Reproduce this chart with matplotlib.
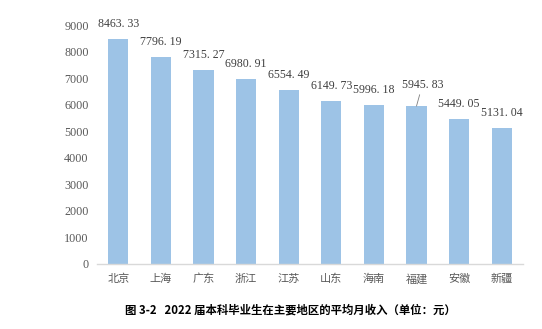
import matplotlib.pyplot as plt

plt.rcParams['font.family'] = ['Noto Sans CJK SC', 'DejaVu Sans']

regions = ['北京', '上海', '广东', '浙江', '江苏', '山东', '海南', '福建', '安徽', '新疆']
income = [8463.33, 7796.19, 7315.27, 6980.91, 6554.49, 6149.73, 5996.18, 5945.83, 5449.05, 5131.04]
yticks = [0, 1000, 2000, 3000, 4000, 5000, 6000, 7000, 8000, 9000]

fig = plt.figure(figsize=(5.42, 3.29), dpi=100)
ax = fig.add_axes([97 / 542, 1 - 264 / 329, 426 / 542, 239 / 329])

x = list(range(len(regions)))
ax.bar(x, income, width=0.47, color='#9dc3e6')

# value labels, 福建 one is pushed aside with a leader line
for i, v in enumerate(income):
    txt = ('%.2f' % v).replace('.', '. ')
    if regions[i] == '福建':
        ax.annotate(txt, xy=(i, v), xytext=(4.3, 15.5), textcoords='offset points',
                    ha='center', va='center', fontsize=8.6, color='#404040',
                    family='Liberation Serif',
                    arrowprops=dict(arrowstyle='-', color='#7f7f7f', lw=0.6,
                                    shrinkA=1, shrinkB=0))
    else:
        ax.annotate(txt, xy=(i, v), xytext=(0, 10.8), textcoords='offset points',
                    ha='center', va='center', fontsize=8.6, color='#404040',
                    family='Liberation Serif')

ax.set_xlim(-0.5, 9.5)
ax.set_ylim(0, 9000)
ax.set_yticks(yticks)
ax.set_yticklabels([str(t) for t in yticks], family='Liberation Serif', fontsize=8.7, color='#595959')
ax.set_xticks(x)
ax.set_xticklabels(regions, fontsize=8, color='#595959')
ax.tick_params(axis='y', length=0, pad=6)
ax.tick_params(axis='x', length=0, pad=7)

for s in ['top', 'right', 'left']:
    ax.spines[s].set_visible(False)
ax.spines['bottom'].set_color('#d9d9d9')
ax.spines['bottom'].set_linewidth(1)

fig.text(290 / 542, 1 - 310 / 329, '图 3-2   2022 届本科毕业生在主要地区的平均月收入（单位：元）',
         ha='center', va='center', fontsize=8.2, fontweight='bold', color='black')

fig.savefig('out.png', dpi=100)
